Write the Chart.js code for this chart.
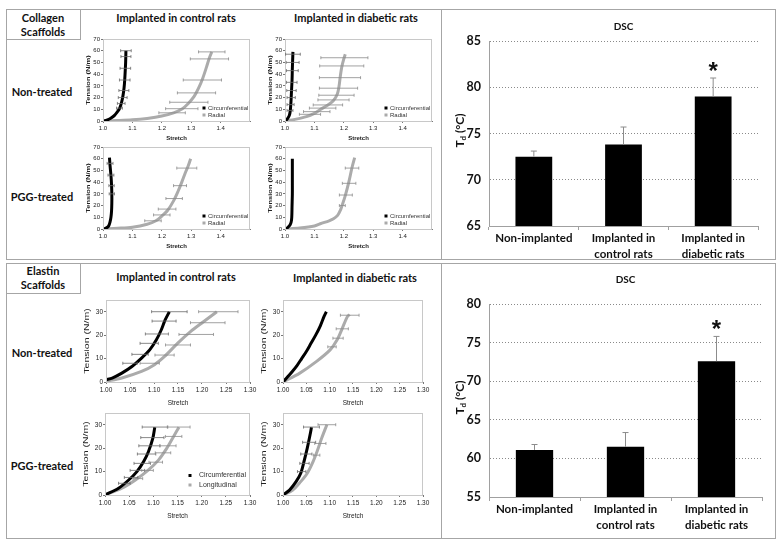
<!DOCTYPE html>
<html><head><meta charset="utf-8">
<script src="https://cdn.jsdelivr.net/npm/chart.js@4.4.1/dist/chart.umd.min.js"></script>
<style>
body{margin:0;background:#fff;}
#page{position:relative;width:782px;height:544px;overflow:hidden;font-family:Lato,'Open Sans',sans-serif;}
.box{position:absolute;border:1px solid #a6a6a6;box-sizing:border-box;}
.lbl{position:absolute;font-weight:bold;font-size:11px;color:#111;text-align:center;white-space:nowrap;transform:translate(-50%,-50%);line-height:14px;}
canvas{position:absolute;}
</style></head><body><div id="page"></div>
<script>
// ---------- tick labels ----------
const colXTicks = [1.0, 1.1, 1.2, 1.3, 1.4];
const colYTicks = [0, 10, 20, 30, 40, 50, 60, 70];
const elXTicks = [1.00, 1.05, 1.10, 1.15, 1.20, 1.25, 1.30];
const elYTicks = [0, 10, 20, 30];
const colDSCTicks = [65, 70, 75, 80, 85];
const elDSCTicks = [55, 60, 65, 70, 75, 80];
const dscCats = [['Non-implanted'], ['Implanted in', 'control rats'], ['Implanted in', 'diabetic rats']];

// ---------- DSC bar values ----------
const colDSC = [72.5, 73.8, 79.0];
const colDSCErr = [0.6, 1.9, 2.0];
const elDSC = [61.1, 61.5, 72.6];
const elDSCErr = [0.7, 1.85, 3.2];

// ---------- tension-stretch curves [stretch, tension] ----------
// Collagen, control rats, non-treated
const colCtrlNon_circ = [[1.000,0],[1.010,0.5],[1.020,1.5],[1.030,3],[1.040,5],[1.048,7.5],[1.055,10],[1.061,14],[1.066,19],[1.070,25],[1.073,32],[1.075,40],[1.077,50],[1.078,60]];
const colCtrlNon_circErr = [[1.078,60,0.018],[1.078,55,0.017],[1.076,45,0.018],[1.074,35,0.018],[1.071,26,0.017],[1.067,20,0.015],[1.062,15,0.013],[1.056,11,0.010]];
const colCtrlNon_rad = [[1.000,0],[1.05,0.4],[1.10,1.0],[1.15,2.2],[1.20,4.2],[1.24,7],[1.27,10.5],[1.29,15],[1.31,21],[1.325,28],[1.34,37],[1.352,46],[1.362,54],[1.370,59]];
const colCtrlNon_radErr = [[1.370,59,0.045],[1.362,53,0.065],[1.338,35,0.065],[1.318,24,0.065],[1.292,16,0.065],[1.268,10.5,0.055],[1.235,7,0.045]];
// Collagen, diabetic rats, non-treated
const colDiabNon_circ = [[1.000,0],[1.005,1],[1.010,2.5],[1.015,5],[1.018,9],[1.020,15],[1.022,25],[1.024,35],[1.025,45],[1.026,52],[1.027,59]];
const colDiabNon_circErr = [[1.027,57,0.025],[1.026,50,0.022],[1.025,43,0.020],[1.023,33,0.018],[1.022,26,0.016],[1.021,20,0.014],[1.019,14,0.012],[1.017,9,0.010]];
const colDiabNon_rad = [[1.000,0],[1.034,1.4],[1.073,3.7],[1.100,6.5],[1.118,9.4],[1.146,13.7],[1.165,17.5],[1.178,23],[1.184,30],[1.188,38],[1.193,46],[1.200,53],[1.205,57]];
const colDiabNon_radErr = [[1.202,54,0.080],[1.193,47,0.075],[1.187,37,0.070],[1.182,28,0.065],[1.175,22,0.060],[1.165,18,0.053],[1.146,13.7,0.050],[1.128,11,0.045],[1.108,8,0.045],[1.085,5.7,0.036]];
// Collagen, control rats, PGG-treated
const colCtrlPGG_circ = [[1.000,0],[1.008,0.5],[1.015,1.5],[1.020,3],[1.024,6],[1.027,10],[1.029,15],[1.030,22],[1.030,30],[1.029,38],[1.027,46],[1.024,54],[1.022,61]];
const colCtrlPGG_circErr = [[1.024,56,0.010],[1.027,46,0.010],[1.029,37,0.009],[1.030,30,0.009]];
const colCtrlPGG_rad = [[1.000,0],[1.05,0.6],[1.10,1.5],[1.15,4],[1.18,7],[1.20,11],[1.22,16],[1.24,24],[1.255,32],[1.268,40],[1.280,48],[1.290,54],[1.298,60]];
const colCtrlPGG_radErr = [[1.285,52,0.034],[1.262,37,0.022],[1.242,26,0.028],[1.218,17,0.030],[1.200,12,0.028],[1.170,7,0.028]];
// Collagen, diabetic rats, PGG-treated
const colDiabPGG_circ = [[1.000,0],[1.005,0.5],[1.011,1.7],[1.017,3.5],[1.021,6],[1.023,10],[1.024,20],[1.025,30],[1.025,40],[1.025,50],[1.025,60]];
const colDiabPGG_circErr = [];
const colDiabPGG_rad = [[1.000,0],[1.05,0.8],[1.10,2.5],[1.12,4.5],[1.15,7],[1.165,8.7],[1.179,11.6],[1.188,15.8],[1.194,20],[1.205,28.5],[1.217,40],[1.228,52.5],[1.237,61]];
const colDiabPGG_radErr = [[1.228,52,0.023],[1.218,39,0.023],[1.207,29,0.022],[1.195,20,0.010]];
// Elastin, control rats, non-treated
const elCtrlNon_circ = [[1.000,1],[1.013,1.7],[1.033,3.8],[1.054,6.6],[1.074,10.2],[1.091,13.7],[1.105,18],[1.115,22.2],[1.123,26.4],[1.132,30]];
const elCtrlNon_circErr = [[1.132,30,0.037],[1.121,26,0.025],[1.106,20.5,0.024],[1.090,16.5,0.019],[1.071,11.8,0.017],[1.050,8,0.015]];
const elCtrlNon_rad = [[1.000,0.3],[1.033,1.7],[1.074,4.5],[1.101,7.4],[1.122,10.9],[1.149,16.5],[1.176,21.5],[1.203,25.7],[1.231,30]];
const elCtrlNon_radErr = [[1.234,30,0.041],[1.212,25.3,0.036],[1.188,20.3,0.036],[1.150,15.8,0.026],[1.122,11.5,0.020],[1.091,8,0.020]];
// Elastin, diabetic rats, non-treated
const elDiabNon_circ = [[1.000,0],[1.010,2.2],[1.020,4.5],[1.030,7],[1.040,10],[1.050,13],[1.060,16.5],[1.070,20],[1.080,24],[1.088,28],[1.093,30]];
const elDiabNon_circErr = [];
const elDiabNon_rad = [[1.000,0],[1.036,3.8],[1.072,8.8],[1.101,13.7],[1.116,18],[1.127,22.9],[1.138,27.9],[1.143,28.8]];
const elDiabNon_radErr = [[1.143,28.5,0.020],[1.127,22.7,0.013],[1.118,18.7,0.011],[1.105,15,0.009]];
// Elastin, control rats, PGG-treated
const elCtrlPGG_circ = [[1.000,0],[1.028,2.9],[1.049,6.4],[1.066,10],[1.080,14.3],[1.090,18.6],[1.099,24.3],[1.103,28.9]];
const elCtrlPGG_circErr = [[1.103,29,0.026],[1.098,24.5,0.024],[1.092,21,0.022],[1.086,17.5,0.019],[1.077,13.5,0.017],[1.067,10.5,0.015],[1.054,7.5,0.014],[1.040,5,0.012]];
const elCtrlPGG_rad = [[1.000,0],[1.035,2.9],[1.063,6.4],[1.090,10.7],[1.111,15],[1.128,20],[1.142,25],[1.153,28.9]];
const elCtrlPGG_radErr = [[1.153,29,0.023],[1.142,25,0.017],[1.130,21,0.017],[1.120,18,0.016],[1.105,14,0.014],[1.088,10.5,0.012],[1.068,7,0.010]];
// Elastin, diabetic rats, PGG-treated
const elDiabPGG_circ = [[1.000,0],[1.014,2.1],[1.028,5.7],[1.038,9.3],[1.045,14.3],[1.052,20],[1.058,25.7],[1.061,28.9]];
const elDiabPGG_circErr = [[1.061,29,0.017],[1.056,22.5,0.014],[1.050,17.5,0.012],[1.046,13.5,0.010],[1.040,10,0.009]];
const elDiabPGG_rad = [[1.000,0],[1.021,2.1],[1.038,5.7],[1.052,9.3],[1.063,13.6],[1.073,18.6],[1.083,24.3],[1.094,30]];
const elDiabPGG_radErr = [[1.094,30,0.019],[1.080,22,0.012],[1.072,17,0.007]];

// ---------- page furniture ----------
const page = document.getElementById('page');
function box(l,t,w,h,extra){const d=document.createElement('div');d.className='box';d.style.cssText+=`left:${l}px;top:${t}px;width:${w}px;height:${h}px;`+(extra||'');page.appendChild(d);}
function label(txt,x,y,size){const d=document.createElement('div');d.className='lbl';d.style.left=x+'px';d.style.top=y+'px';if(size)d.style.fontSize=size+'px';d.innerHTML=txt;page.appendChild(d);}
box(6,9,770,251); box(6,263,770,276);
box(6,9,75,31,'border-left:none;border-top:none;'); box(6,263,75,31,'border-left:none;border-top:none;');
box(441,9,335,251,'border-top:none;border-right:none;border-bottom:none;');
box(441,263,335,276,'border-top:none;border-right:none;border-bottom:none;');
label('Collagen<br>Scaffolds',43,25); label('Elastin<br>Scaffolds',43,278);
label('Implanted in control rats',176,18); label('Implanted in diabetic rats',356,18);
label('Implanted in control rats',176,277); label('Implanted in diabetic rats',355,278);
label('Non-treated',42,92); label('PGG-treated',42,197);
label('Non-treated',42,353); label('PGG-treated',42,466);

// ---------- plugins ----------
Chart.register({
  id:'extras',
  afterDatasetsDraw(chart, args, o){
    const ctx = chart.ctx, ca = chart.chartArea;
    const xs = chart.scales.x, ys = chart.scales.y;
    ctx.save();
    if (o.border){ ctx.strokeStyle=o.border; ctx.lineWidth=1; ctx.strokeRect(ca.left+0.5, ca.top+0.5, ca.right-ca.left-1, ca.bottom-ca.top); }
    if (chart.config.type === 'scatter'){
      chart.data.datasets.forEach(ds=>{
        (ds.errs||[]).forEach(e=>{
          const y = ys.getPixelForValue(e[1]);
          const x1 = xs.getPixelForValue(e[0]-e[2]), x2 = xs.getPixelForValue(e[0]+e[2]);
          ctx.strokeStyle = ds.errColor; ctx.lineWidth = 0.8;
          ctx.beginPath(); ctx.moveTo(x1,y); ctx.lineTo(x2,y);
          ctx.moveTo(x1,y-1.5); ctx.lineTo(x1,y+1.5); ctx.moveTo(x2,y-1.5); ctx.lineTo(x2,y+1.5); ctx.stroke();
        });
      });
      if (o.legend){
        const L=o.legend; ctx.font = L.size+'px "Liberation Sans", Arial'; ctx.textBaseline='middle'; ctx.textAlign='left';
        L.items.forEach((it,i)=>{
          const y = ca.bottom - L.dy[i], x = ca.right - L.dx;
          ctx.fillStyle = it.color; ctx.fillRect(x - L.gap - 1.5, y-1.5, 3, 3);
          ctx.fillStyle = '#333'; ctx.fillText(it.text, x, y);
        });
      }
      // y-axis title, stretched along its length like the original
      const T = o.ytitle;
      ctx.save();
      ctx.translate(ca.left - T.dx, (ca.top+ca.bottom)/2);
      ctx.rotate(-Math.PI/2);
      ctx.scale(T.sx, 1);
      ctx.font = T.font; ctx.fillStyle='#222'; ctx.textAlign='center'; ctx.textBaseline='middle';
      ctx.fillText(T.text, 0, 0);
      ctx.restore();
    } else {
      const meta = chart.getDatasetMeta(0);
      const ds = chart.data.datasets[0];
      meta.data.forEach((el,i)=>{
        const yTop = ys.getPixelForValue(ds.data[i] + ds.errs[i]);
        ctx.strokeStyle='#8c8c8c'; ctx.lineWidth=1;
        ctx.beginPath(); ctx.moveTo(el.x, el.y); ctx.lineTo(el.x, yTop); ctx.moveTo(el.x-3, yTop); ctx.lineTo(el.x+3, yTop); ctx.stroke();
        if (i === o.star){
          ctx.fillStyle='#111'; ctx.font='bold 24px "Liberation Sans", Arial'; ctx.textAlign='center'; ctx.textBaseline='alphabetic';
          ctx.fillText('*', el.x, yTop + 1);
        }
      });
      // title
      ctx.fillStyle='#111'; ctx.textAlign='center'; ctx.textBaseline='middle';
      ctx.font='bold 10px Lato';
      ctx.fillText('DSC', (ca.left+ca.right)/2, ca.top - o.titleDy);
      // y title  T_d (°C)
      ctx.translate(ca.left - 29, (ca.top+ca.bottom)/2 - 3);
      ctx.rotate(-Math.PI/2);
      const f1='bold 12px Lato', f2='bold 8px Lato';
      ctx.font=f1; const wT=ctx.measureText('T').width, wR=ctx.measureText(' (°C)').width;
      ctx.font=f2; const wd=ctx.measureText('d').width;
      let x0 = -(wT+wd+wR)/2;
      ctx.textAlign='left';
      ctx.font=f1; ctx.fillText('T', x0, 0);
      ctx.font=f2; ctx.fillText('d', x0+wT, 3);
      ctx.font=f1; ctx.fillText(' (°C)', x0+wT+wd, 0);
    }
    ctx.restore();
  }
});

function mkCanvas(l,t,w,h){const c=document.createElement('canvas');c.width=w;c.height=h;c.style.left=l+'px';c.style.top=t+'px';c.style.width=w+'px';c.style.height=h+'px';page.appendChild(c);return c;}

function panel(rect, series, o){
  const YW=o.yw, XH=o.xh, PL=2, PT=6, PR=10, PB=2;
  const w = rect[2]-rect[0]+YW+PL+PR, h = rect[3]-rect[1]+XH+PT+PB;
  const cv = mkCanvas(rect[0]-YW-PL, rect[1]-PT, w, h);
  const fw = o.bold ? 'bold' : 'normal';
  new Chart(cv, {
    type:'scatter',
    data:{datasets: series.map(s=>({data:s.data.map(p=>({x:p[0],y:p[1]})), showLine:true, borderColor:s.color, borderWidth:3,
      pointRadius:0, tension:0.3, fill:false, errs:s.err, errColor:s.errColor}))},
    options:{
      responsive:false, animation:false, events:[],
      layout:{padding:{left:PL,top:PT,right:PR,bottom:PB}},
      plugins:{legend:{display:false}, tooltip:{enabled:false}, extras:{border:'#c8c8c8', legend:o.legend, ytitle:o.ytitle}},
      scales:{
        x:{type:'linear', min:o.xmin, max:o.xmax,
          afterBuildTicks:s=>{s.ticks=o.xticks.map(v=>({value:v}));},
          afterFit:s=>{s.height=XH; s.paddingLeft=0; s.paddingRight=0;},
          grid:{drawOnChartArea:false, drawTicks:true, tickLength:2, color:'#777'},
          border:{display:true, color:'#777', width:1},
          ticks:{font:{family:'"Liberation Sans", Arial', size:o.tf}, color:'#222', padding:2, maxRotation:0, autoSkip:false, callback:v=>v.toFixed(o.xdec)},
          title:{display:true, text:'Stretch', color:'#222', font:{family:'"Liberation Sans", Arial', size:o.sf, weight:fw}, padding:{top:0,bottom:1}}
        },
        y:{type:'linear', min:0, max:o.ymax,
          afterBuildTicks:s=>{s.ticks=o.yticks.map(v=>({value:v}));},
          afterFit:s=>{s.width=YW; s.paddingTop=0; s.paddingBottom=0;},
          grid:{drawOnChartArea:false, drawTicks:true, tickLength:2, color:'#777'},
          border:{display:true, color:'#777', width:1},
          ticks:{font:{family:'"Liberation Sans", Arial', size:o.tf}, color:'#222', padding:1, autoSkip:false},
          title:{display:false}
        }
      }
    }
  });
}

const colOpt = {xmin:1.0, xmax:1.5, ymax:70, xticks:colXTicks, yticks:colYTicks, xdec:1, yw:22, xh:22, tf:6, sf:6, bold:true,
  ytitle:{text:'Tension (N/m)', font:'bold 6px "Liberation Sans", Arial', sx:1.25, dx:15},
  legend:{size:6, dx:42, gap:4, dy:[13,6], items:[{text:'Circumferential',color:'#000'},{text:'Radial',color:'#aaa'}]}};
const elOpt = {xmin:1.0, xmax:1.30, ymax:35, xticks:elXTicks, yticks:elYTicks, xdec:2, yw:24, xh:26, tf:6.5, sf:6.5, bold:false,
  ytitle:{text:'Tension (N/m)', font:'7px "Liberation Sans", Arial', sx:1.5, dx:19}, legend:null};
const elOptLeg = Object.assign({}, elOpt, {legend:{size:7, dx:51, gap:9, dy:[19.5,10], items:[{text:'Circumferential',color:'#000'},{text:'Longitudinal',color:'#aaa'}]}});

function ser(circ, circErr, rad, radErr){
  return [{data:circ, color:'#000', err:circErr, errColor:'#6a6a6a'}, {data:rad, color:'#ababab', err:radErr, errColor:'#8a8a8a'}];
}
panel([103,39,250,121], ser(colCtrlNon_circ, colCtrlNon_circErr, colCtrlNon_rad, colCtrlNon_radErr), colOpt);
panel([285,39,432,121], ser(colDiabNon_circ, colDiabNon_circErr, colDiabNon_rad, colDiabNon_radErr), colOpt);
panel([103,147,250,229], ser(colCtrlPGG_circ, colCtrlPGG_circErr, colCtrlPGG_rad, colCtrlPGG_radErr), colOpt);
panel([285,147,432,229], ser(colDiabPGG_circ, colDiabPGG_circErr, colDiabPGG_rad, colDiabPGG_radErr), colOpt);
panel([106,300,250,382], ser(elCtrlNon_circ, elCtrlNon_circErr, elCtrlNon_rad, elCtrlNon_radErr), elOpt);
panel([283,300,423,382], ser(elDiabNon_circ, elDiabNon_circErr, elDiabNon_rad, elDiabNon_radErr), elOpt);
panel([105,413,250,495], ser(elCtrlPGG_circ, elCtrlPGG_circErr, elCtrlPGG_rad, elCtrlPGG_radErr), elOptLeg);
panel([283,413,423,495], ser(elDiabPGG_circ, elDiabPGG_circErr, elDiabPGG_rad, elDiabPGG_radErr), elOpt);

function barChart(area, cvs, vals, errs, yticks, titleDy){
  const YW=30, XH=cvs[3]-area[3];
  const cv = mkCanvas(cvs[0], cvs[1], cvs[2]-cvs[0], cvs[3]-cvs[1]);
  const pad = {left:area[0]-cvs[0]-YW, top:area[1]-cvs[1], right:cvs[2]-area[2], bottom:0};
  const ymin = yticks[0], ymax = yticks[yticks.length-1];
  new Chart(cv, {
    type:'bar',
    data:{labels:dscCats, datasets:[{data:vals, errs:errs, backgroundColor:'#000', borderWidth:0, barPercentage:0.41, categoryPercentage:1.0}]},
    options:{
      responsive:false, animation:false, events:[],
      layout:{padding:pad},
      plugins:{legend:{display:false}, tooltip:{enabled:false}, extras:{star:2, titleDy:titleDy}},
      scales:{
        x:{afterFit:s=>{s.height=XH; s.paddingLeft=0; s.paddingRight=0;},
          grid:{offset:true, drawOnChartArea:false, drawTicks:true, tickLength:4, color:'#a0a0a0'},
          border:{display:true, color:'#a0a0a0'},
          ticks:{font:{family:'Lato', weight:'bold', size:11.5, lineHeight:1.4}, color:'#111', padding:0, maxRotation:0, autoSkip:false}},
        y:{min:ymin, max:ymax,
          afterBuildTicks:s=>{s.ticks=yticks.map(v=>({value:v}));},
          afterFit:s=>{s.width=YW; s.paddingTop=0; s.paddingBottom=0;},
          grid:{drawTicks:false, color:c=>c.tick && c.tick.value===ymin ? 'rgba(0,0,0,0)' : '#8a8a8a', lineWidth:1},
          border:{display:true, color:'#a0a0a0', dash:[1,2]},
          ticks:{font:{family:'Lato', weight:'bold', size:12.5}, color:'#111', padding:8, autoSkip:false}}
      }
    }
  });
}
barChart([489,41,758,226], [442,12,773,262], colDSC, colDSCErr, colDSCTicks, 14);
barChart([489,304,762,497], [442,266,773,536], elDSC, elDSCErr, elDSCTicks, 24);
</script></body></html>
